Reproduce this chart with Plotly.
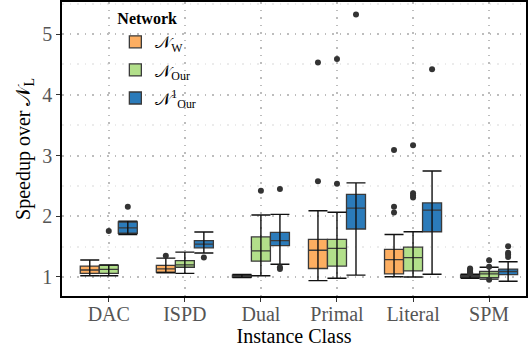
import plotly.graph_objects as go

categories = ["DAC", "ISPD", "Dual", "Primal", "Literal", "SPM"]
networks = ["𝒩<sub>W</sub>", "𝒩<sub>Our</sub>", "𝒩<sup>1</sup><sub>Our</sub>"]
colors = ["#FDAE61", "#B2DF8A", "#2B7BBA"]

# N_W
w_lo = [1.02, 1.07, 0.99, 0.94, 1.005, 0.98]
w_q1 = [1.06, 1.08, 1.00, 1.14, 1.05, 0.995]
w_med = [1.115, 1.135, 1.01, 1.44, 1.285, 1.01]
w_q3 = [1.18, 1.19, 1.03, 1.62, 1.455, 1.03]
w_hi = [1.28, 1.31, 1.04, 2.09, 1.70, 1.045]
w_out_cat = ["ISPD", "Primal", "Primal", "Literal", "Literal", "Literal", "SPM", "SPM", "SPM", "SPM", "SPM"]
w_out_val = [1.35, 2.575, 4.53, 3.09, 2.157, 2.06, 1.06, 1.08, 1.10, 1.12, 1.14]

# N_Our
o_lo = [1.02, 1.06, 1.02, 0.98, 1.00, 0.965]
o_q1 = [1.06, 1.16, 1.26, 1.18, 1.10, 0.99]
o_med = [1.125, 1.20, 1.43, 1.47, 1.32, 1.05]
o_q3 = [1.19, 1.27, 1.66, 1.62, 1.49, 1.09]
o_hi = [1.20, 1.41, 2.02, 2.065, 1.745, 1.16]
o_out_cat = ["DAC", "Dual", "Primal", "Primal", "Literal", "Literal", "Literal", "Literal", "SPM", "SPM", "SPM"]
o_out_val = [1.757, 2.42, 2.535, 4.59, 3.17, 2.38, 2.34, 2.31, 1.275, 1.17, 0.955]

# N^1_Our
b_lo = [1.70, 1.395, 1.21, 1.03, 1.045, 0.93]
b_q1 = [1.72, 1.48, 1.515, 1.79, 1.745, 1.04]
b_med = [1.81, 1.54, 1.60, 2.135, 2.10, 1.09]
b_q3 = [1.905, 1.60, 1.735, 2.36, 2.22, 1.13]
b_hi = [1.92, 1.74, 2.03, 2.55, 2.745, 1.25]
b_out_cat = ["DAC", "ISPD", "Dual", "Dual", "Dual", "Primal", "Literal", "SPM", "SPM", "SPM", "SPM"]
b_out_val = [2.157, 1.32, 2.45, 1.16, 1.13, 5.32, 4.42, 1.505, 1.40, 1.37, 1.33]

series = [
    (w_lo, w_q1, w_med, w_q3, w_hi, w_out_cat, w_out_val),
    (o_lo, o_q1, o_med, o_q3, o_hi, o_out_cat, o_out_val),
    (b_lo, b_q1, b_med, b_q3, b_hi, b_out_cat, b_out_val),
]

offsets = [-0.25, 0.0, 0.25]
bw = 0.25
FONT = "Liberation Serif"
GRIDDASH = "1.5px,6px"

fig = go.Figure()
for k, (lo, q1, med, q3, hi, oc, ov) in enumerate(series):
    xs = [i + offsets[k] for i in range(len(categories))]
    fig.add_trace(go.Box(
        x=xs, q1=q1, median=med, q3=q3, lowerfence=q1, upperfence=q3,
        width=bw, boxpoints=False, whiskerwidth=0,
        fillcolor=colors[k], line=dict(color="#3a3a3a", width=1.3),
        name=networks[k], legendgroup=str(k), showlegend=True,
    ))
    # whiskers with caps
    fig.add_trace(go.Scatter(
        x=xs, y=med, mode="markers",
        marker=dict(size=1, color="rgba(0,0,0,0)"),
        error_y=dict(type="data", symmetric=False,
                     array=[h - m for h, m in zip(hi, med)],
                     arrayminus=[m - l for m, l in zip(med, lo)],
                     color="#111111", thickness=1.4, width=9.5),
        showlegend=False, hoverinfo="skip", legendgroup=str(k),
    ))
    fig.add_trace(go.Scatter(
        x=[categories.index(c) + offsets[k] for c in oc], y=ov, mode="markers",
        marker=dict(size=6, color="#333333"),
        showlegend=False, legendgroup=str(k),
    ))

fig.update_layout(
    width=528, height=353,
    margin=dict(l=62, r=0, t=2, b=57),
    plot_bgcolor="white", paper_bgcolor="white",
    font=dict(family=FONT, size=16, color="black"),
    boxmode="overlay",
    legend=dict(
        x=0.115, y=0.995, xanchor="left", yanchor="top",
        bgcolor="rgba(0,0,0,0)", tracegroupgap=3,
        title=dict(text="<b>Network</b>", font=dict(size=16, family=FONT)),
        font=dict(size=17, family=FONT),
    ),
    xaxis=dict(
        range=[-0.615, 5.485],
        tickmode="array", tickvals=list(range(len(categories))), ticktext=categories,
        showgrid=True, gridcolor="#bdbdbd", griddash=GRIDDASH, gridwidth=1.5,
        showline=True, linecolor="black", linewidth=1.5, mirror=True,
        ticks="outside", ticklen=4, tickcolor="#333333",
        tickfont=dict(size=20, color="#555555", family=FONT),
        ticklabelstandoff=-5,
        title=dict(text="Instance Class", font=dict(size=20, family=FONT), standoff=2),
        zeroline=False,
    ),
    yaxis=dict(
        range=[0.687, 5.527],
        tickmode="array", tickvals=[1, 2, 3, 4, 5],
        showgrid=True, gridcolor="#bdbdbd", griddash=GRIDDASH, gridwidth=1.5,
        minor=dict(tickmode="array", tickvals=[1.5, 2.5, 3.5, 4.5, 5.5],
                   showgrid=True, gridcolor="#ebebeb", gridwidth=1.5, ticks=""),
        showline=True, linecolor="black", linewidth=1.5, mirror=True,
        ticks="outside", ticklen=4, tickcolor="#333333",
        tickfont=dict(size=20, color="#555555", family=FONT),
        title=dict(text="Speedup over 𝒩<sub>L</sub>", font=dict(size=20, family=FONT), standoff=6),
        zeroline=False,
    ),
)

fig.write_html("out.html")
